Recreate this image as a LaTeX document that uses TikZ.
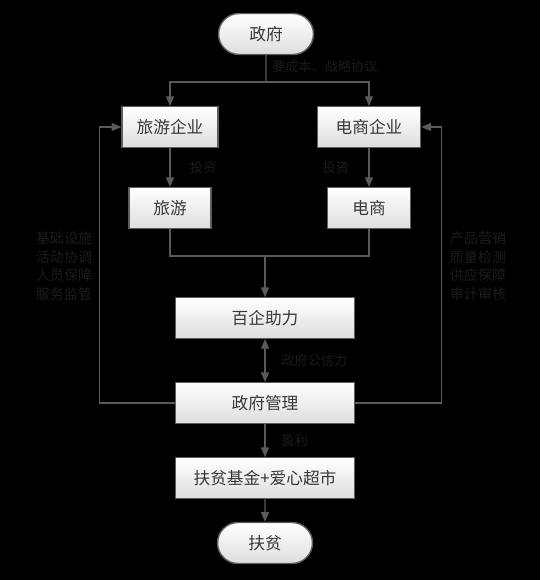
\documentclass[tikz,border=0pt]{standalone}
\usepackage{fontspec}
\setmainfont{Noto Sans CJK SC}
\usetikzlibrary{arrows.meta,positioning,shapes.misc}
\definecolor{boxline}{HTML}{5E5E5E}
\definecolor{boxtext}{HTML}{383838}
\definecolor{wire}{HTML}{5A5A5A}
\definecolor{faint}{HTML}{1C1C1C}

\tikzset{
  box/.style={draw=boxline, line width=0.8pt, top color=white, bottom color=black!13,
    text=boxtext, font=\fontsize{9.5}{11}\selectfont, minimum height=0.81cm, inner sep=2pt},
  wide/.style={minimum width=3.58cm},
  pill/.style={box, rounded rectangle, minimum width=2.04cm, minimum height=0.82cm},
  wire/.style={draw=wire, line width=0.7pt},
  note/.style={text=faint, font=\fontsize{7.5}{9}\selectfont, inner sep=1pt},
  sidenote/.style={text=faint, font=\fontsize{8}{10.5}\selectfont, align=center}
}

\begin{document}
\begin{tikzpicture}[x=0.02cm, y=-0.02cm, >={Triangle[length=5.5pt,width=4.5pt]}]
  \fill[black] (0,0) rectangle (540,580);

  % main chain
  \node[pill] (gov) at (266,34) {政府};
  \node[box, minimum width=1.92cm] (tourCo) at (170,127) {旅游企业};
  \node[box, minimum width=2.06cm] (ecomCo) at (369,127) {电商企业};
  \node[box, minimum width=1.64cm] (tour) at (170,208) {旅游};
  \node[box, minimum width=1.66cm] (ecom) at (369,208) {电商};
  \node[box, wide] (help) at (265,318) {百企助力};
  \node[box, wide] (manage) at (265,403) {政府管理};
  \node[box, wide] (fund) at (265,478) {扶贫基金+爱心超市};
  \node[pill] (poor) at (265,543) {扶贫};

  \coordinate (split) at (266,82);
  \coordinate (join) at (265,256);

  \draw[wire] (gov) -- (split);
  \draw[wire, ->] (split) -| (tourCo);
  \draw[wire, ->] (split) -| (ecomCo);
  \node[note, anchor=west] (cost) at (270,67) {要成本、战略协议};

  \draw[wire, ->] (tourCo) -- node[note, right=10pt] (inv1) {投资} (tour);
  \draw[wire, ->] (ecomCo) -- node[note, left=10pt] (inv2) {投资} (ecom);

  \draw[wire] (tour) |- (join);
  \draw[wire] (ecom) |- (join);
  \draw[wire, ->] (join) -- (help);

  \draw[wire, <->] (help) -- node[note, right=8pt] (trust) {政府公信力} (manage);
  \draw[wire, ->] (manage) -- node[note, right=8pt] (profit) {盈利} (fund);
  \draw[wire, ->] (fund) -- (poor);

  % feedback loops
  \draw[wire, ->] (manage.west) -- ++(-75,0) |- (tourCo.west);
  \draw[wire, ->] (manage.east) -- ++(86,0) |- (ecomCo.east);
  \node[sidenote] (leftNote) at (64,266) {基础设施\\活动协调\\人员保障\\服务监管};
  \node[sidenote] (rightNote) at (478,266) {产品营销\\质量检测\\供应保障\\审计审核};
\end{tikzpicture}
\end{document}
